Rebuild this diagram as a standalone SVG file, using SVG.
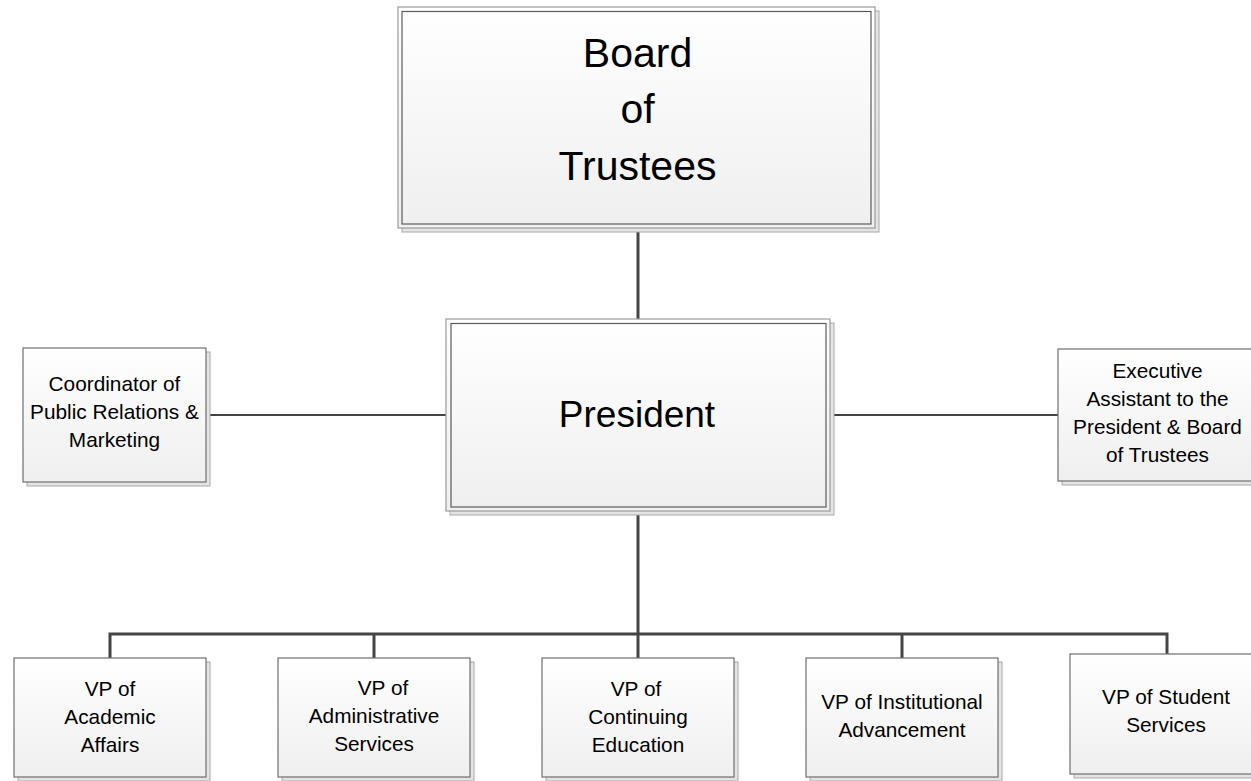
<svg xmlns="http://www.w3.org/2000/svg" width="1251" height="781" viewBox="0 0 1251 781">
<defs>
<linearGradient id="g" x1="0" y1="0" x2="0" y2="1">
<stop offset="0" stop-color="#ffffff"/>
<stop offset="1" stop-color="#efefef"/>
</linearGradient>
</defs>
<style>
.sh{fill:#e4e4e4;stroke:#a8a8a8;stroke-width:1}
.bx{fill:url(#g);stroke:#6e6e6e;stroke-width:1.2}
.ob{fill:url(#g);stroke:#9a9a9a;stroke-width:1.2}
.ib{fill:none;stroke:#5a5a5a;stroke-width:1.2}
.t{font-family:"Liberation Sans",Arial,sans-serif;fill:#000;text-anchor:middle}
.s{font-size:20.8px}
.c{stroke:#444;stroke-width:3;fill:none}
.c2{stroke:#444;stroke-width:2;fill:none}
</style>
<rect width="1251" height="781" fill="#fff"/>
<g id="connectors">
<line class="c" x1="638" y1="229" x2="638" y2="319"/>
<line class="c" x1="638" y1="512" x2="638" y2="634"/>
<polyline class="c" points="110,658 110,634 1167,634 1167,654"/>
<line class="c" x1="374" y1="634" x2="374" y2="658"/>
<line class="c" x1="638" y1="634" x2="638" y2="658"/>
<line class="c" x1="902" y1="634" x2="902" y2="658"/>
<line class="c2" x1="206" y1="415" x2="446" y2="415"/>
<line class="c2" x1="830" y1="415" x2="1058" y2="415"/>
</g>
<g id="board">
<rect class="sh" x="402" y="11" width="477" height="221"/>
<rect class="ob" x="398" y="7" width="477" height="221"/>
<rect class="ib" x="402" y="11.5" width="469" height="212.5"/>
<text class="t" x="637.5" y="67" font-size="41">Board</text>
<text class="t" x="637.5" y="123" font-size="41">of</text>
<text class="t" x="637.5" y="180" font-size="41">Trustees</text>
</g>
<g id="president">
<rect class="sh" x="450" y="323" width="384" height="192"/>
<rect class="ob" x="446" y="319" width="384" height="192"/>
<rect class="ib" x="451" y="323.5" width="375" height="183.5"/>
<text class="t" x="637" y="427" font-size="37">President</text>
</g>
<g id="coordinator">
<rect class="sh" x="27" y="352" width="183" height="134"/>
<rect class="bx" x="23" y="348" width="183" height="134"/>
<text class="t s" x="114.5" y="391">Coordinator of</text>
<text class="t s" x="114.5" y="419">Public Relations &amp;</text>
<text class="t s" x="114.5" y="447">Marketing</text>
</g>
<g id="executive">
<rect class="sh" x="1062" y="353" width="200" height="132"/>
<rect class="bx" x="1058" y="349" width="200" height="132"/>
<text class="t s" x="1157.5" y="378">Executive</text>
<text class="t s" x="1157.5" y="406">Assistant to the</text>
<text class="t s" x="1157.5" y="434">President &amp; Board</text>
<text class="t s" x="1157.5" y="462">of Trustees</text>
</g>
<g id="vp-academic">
<rect class="sh" x="18" y="662" width="192" height="119"/>
<rect class="bx" x="14" y="658" width="192" height="119"/>
<text class="t s" x="110" y="696">VP of</text>
<text class="t s" x="110" y="724">Academic</text>
<text class="t s" x="110" y="752">Affairs</text>
</g>
<g id="vp-administrative">
<rect class="sh" x="282" y="662" width="192" height="119"/>
<rect class="bx" x="278" y="658" width="192" height="119"/>
<text class="t s" x="383" y="695">VP of</text>
<text class="t s" x="374" y="723">Administrative</text>
<text class="t s" x="374" y="751">Services</text>
</g>
<g id="vp-continuing">
<rect class="sh" x="546" y="662" width="192" height="119"/>
<rect class="bx" x="542" y="658" width="192" height="119"/>
<text class="t s" x="636" y="696">VP of</text>
<text class="t s" x="638" y="724">Continuing</text>
<text class="t s" x="638" y="752">Education</text>
</g>
<g id="vp-institutional">
<rect class="sh" x="810" y="662" width="192" height="119"/>
<rect class="bx" x="806" y="658" width="192" height="119"/>
<text class="t s" x="902" y="709">VP of Institutional</text>
<text class="t s" x="902" y="737">Advancement</text>
</g>
<g id="vp-student">
<rect class="sh" x="1074" y="658" width="192" height="120"/>
<rect class="bx" x="1070" y="654" width="192" height="120"/>
<text class="t s" x="1166" y="704">VP of Student</text>
<text class="t s" x="1166" y="732">Services</text>
</g>
</svg>
